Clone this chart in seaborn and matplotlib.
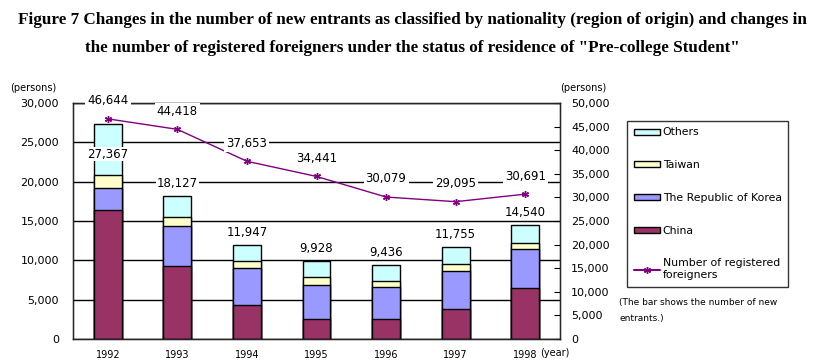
import numpy as np
import pandas as pd
import matplotlib.pyplot as plt
import seaborn as sns
from matplotlib.patches import Patch
from matplotlib.lines import Line2D

years = ["1992", "1993", "1994", "1995", "1996", "1997", "1998"]
china = [16400, 9230, 4360, 2560, 2560, 3850, 6540]
korea = [2820, 5130, 4700, 4360, 4110, 4740, 4870]
taiwan = [1620, 1150, 810, 900, 640, 900, 770]
total_entrants = [27367, 18127, 11947, 9928, 9436, 11755, 14540]
registered = [46644, 44418, 37653, 34441, 30079, 29095, 30691]

df = pd.DataFrame({"year": years, "China": china, "Korea": korea,
                   "Taiwan": taiwan, "total": total_entrants})
df["Others"] = df["total"] - df["China"] - df["Korea"] - df["Taiwan"]

sns.set_style("white")
plt.rcParams["font.family"] = ["DejaVu Sans"]
plt.rcParams["text.color"] = "black"
plt.rcParams["xtick.color"] = "black"
plt.rcParams["ytick.color"] = "black"

col_china = "#993366"
col_korea = "#9999FF"
col_taiwan = "#FFFFCC"
col_others = "#CCFFFF"
col_line = "#800080"

fig = plt.figure(figsize=(8.24, 3.63), dpi=100)
fig.subplots_adjust(left=73 / 824, right=560 / 824, top=1 - 103 / 363, bottom=1 - 339 / 363)
ax1 = fig.add_subplot(111)

# stacked bars: draw cumulative heights from top layer down
layers = [
    (df["total"], col_others),
    (df["China"] + df["Korea"] + df["Taiwan"], col_taiwan),
    (df["China"] + df["Korea"], col_korea),
    (df["China"], col_china),
]
for heights, c in layers:
    sns.barplot(x=df["year"], y=heights, color=c, width=0.4, edgecolor="black",
                linewidth=1, saturation=1, ax=ax1)

ax1.set_ylim(0, 30000)
ax1.set_xlim(-0.5, 6.5)
ax1.set_yticks(np.arange(0, 30001, 5000))
ax1.set_yticklabels([f"{v:,}" for v in range(0, 30001, 5000)], fontsize=8)
ax1.yaxis.grid(True, color="black", linewidth=1)
ax1.set_axisbelow(True)
ax1.set_xlabel("")
ax1.set_ylabel("")
ax1.tick_params(axis="y", length=0, pad=10)
ax1.tick_params(axis="x", length=0, pad=8, labelsize=7)
ax1.set_xticks(np.arange(0.5, 6.5, 1), minor=True)
ax1.tick_params(axis="x", which="minor", direction="in", length=4, color="black")
for s in ax1.spines.values():
    s.set_color("black")
    s.set_linewidth(1)

for i, t in enumerate(df["total"]):
    if i == 0:
        ax1.annotate(f"{t:,}", (i, t), xytext=(0, -22), textcoords="offset points",
                     ha="center", va="center", fontsize=8.5,
                     bbox=dict(facecolor="white", edgecolor="none", pad=0.5))
    else:
        ax1.annotate(f"{t:,}", (i, t), xytext=(0, 9), textcoords="offset points",
                     ha="center", va="center", fontsize=8.5,
                     bbox=dict(facecolor="white", edgecolor="none", pad=0.5))

ax2 = ax1.twinx()
sns.lineplot(x=np.arange(len(years)), y=registered, color=col_line, linewidth=1,
             marker=(6, 2, 0), markersize=5, markeredgecolor=col_line,
             markeredgewidth=1, ax=ax2)
ax2.set_ylim(0, 50000)
ax2.set_yticks(np.arange(0, 50001, 5000))
ax2.set_yticklabels([f"{v:,}" for v in range(0, 50001, 5000)], fontsize=8)
ax2.tick_params(axis="y", direction="in", length=4, pad=8, color="black")
ax2.set_ylabel("")
for i, v in enumerate(registered):
    ax2.annotate(f"{v:,}", (i, v), xytext=(0, 13), textcoords="offset points",
                 ha="center", va="center", fontsize=8.5,
                 bbox=dict(facecolor="white", edgecolor="none", pad=1.5))

fig.text(10 / 824, 1 - 88 / 363, "(persons)", fontsize=7, va="center")
fig.text(560 / 824, 1 - 88 / 363, "(persons)", fontsize=7, va="center")
fig.text(540 / 824, 1 - 353 / 363, "(year)", fontsize=7, va="center")

fig.text(0.5, 1 - 20 / 363,
         "Figure 7 Changes in the number of new entrants as classified by nationality "
         "(region of origin) and changes in",
         ha="center", va="center", fontsize=12.3, fontweight="bold",
         family=["Liberation Serif"])
fig.text(0.5, 1 - 48 / 363,
         "the number of registered foreigners under the status of residence of "
         "\"Pre-college Student\"",
         ha="center", va="center", fontsize=12.3, fontweight="bold",
         family=["Liberation Serif"])

handles = [
    Patch(facecolor=col_others, edgecolor="black", label="Others"),
    Patch(facecolor=col_taiwan, edgecolor="black", label="Taiwan"),
    Patch(facecolor=col_korea, edgecolor="black", label="The Republic of Korea"),
    Patch(facecolor=col_china, edgecolor="black", label="China"),
    Line2D([0], [0], color=col_line, marker=(6, 2, 0), markersize=5,
           label="Number of registered\nforeigners"),
]
leg = fig.legend(handles=handles, loc="upper left",
                 bbox_to_anchor=(627 / 824, 1 - 121 / 363), fontsize=7.8,
                 frameon=True, fancybox=False, labelspacing=2.1,
                 handlelength=2.4, handleheight=0.5, handletextpad=0.3,
                 borderpad=0.6, borderaxespad=0)
leg.get_frame().set_edgecolor("black")
leg.get_frame().set_linewidth(1)

fig.text(619 / 824, 1 - 303 / 363, "(The bar shows the number of new", fontsize=6.5, va="center")
fig.text(619 / 824, 1 - 318 / 363, "entrants.)", fontsize=6.5, va="center")

fig.savefig("out.png", dpi=100)
